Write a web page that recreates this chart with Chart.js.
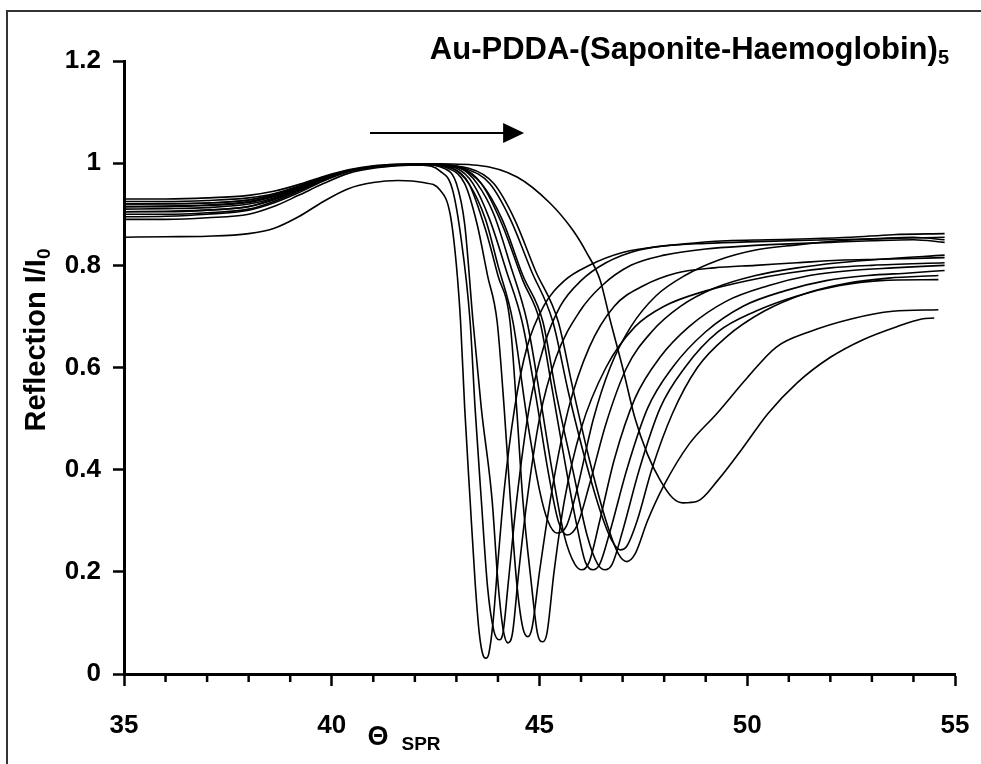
<!DOCTYPE html>
<html><head><meta charset="utf-8">
<script src="https://cdn.jsdelivr.net/npm/chart.js@4/dist/chart.umd.min.js"></script>
<style>html,body{margin:0;padding:0;background:#fff}canvas{display:block}</style>
</head><body>
<canvas id="c" width="981" height="764"></canvas>
<script>
const titleText = "Au-PDDA-(Saponite-Haemoglobin)";
const titleSub = "5";
const yTitleText = "Reflection I/I";
const yTitleSub = "0";
const xTitleSymbol = "\u0398";
const xTitleSub = "SPR";
const xTickValues = [35, 40, 45, 50, 55];
const yTickValues = [0, 0.2, 0.4, 0.6, 0.8, 1, 1.2];
const arrowFrom = [40.92, 1.059];
const arrowTo = [44.63, 1.059];

const curveA = [[35,.855],[36,.856],[37,.857],[38,.862],[38.6,.872],[39.2,.895],[39.8,.925],[40.4,.95],[41,.962],[41.6,.966],[42.2,.962],[42.6,.948],[42.85,.9],[43.0,.8],[43.1,.69],[43.2,.52],[43.33,.34],[43.45,.18],[43.55,.08],[43.65,.035],[43.71,.031],[43.78,.04],[43.88,.1],[44.0,.22],[44.15,.36],[44.4,.52],[44.7,.64],[45.1,.72],[45.6,.77],[46.2,.8],[47,.825],[48,.838],[49,.843],[50,.846],[51,.848],[52,.85],[53,.852],[54,.855],[54.75,.85]];
const curveB = [[35,.915],[36,.916],[37,.918],[38,.925],[38.6,.935],[39.2,.95],[39.8,.97],[40.4,.985],[41,.993],[41.6,.997],[42.2,.996],[42.6,.985],[42.9,.95],[43.1,.86],[43.33,.69],[43.45,.52],[43.6,.34],[43.75,.17],[43.9,.085],[44.03,.067],[44.12,.08],[44.25,.18],[44.45,.34],[44.75,.52],[45.1,.64],[45.5,.72],[46,.77],[46.6,.805],[47.4,.83],[48.5,.842],[49.5,.848],[50.5,.85],[51.5,.852],[52.5,.855],[53.5,.86],[54.75,.862]];
const curveC = [[35,.905],[36,.905],[37,.908],[38,.915],[38.6,.93],[39.2,.948],[39.8,.968],[40.4,.985],[41,.993],[41.6,.996],[42.2,.997],[42.7,.99],[43.0,.96],[43.2,.88],[43.4,.69],[43.6,.52],[43.86,.34],[44.0,.18],[44.12,.09],[44.24,.061],[44.35,.08],[44.5,.2],[44.7,.34],[45.0,.5],[45.4,.62],[45.97,.71],[46.5,.76],[47.2,.8],[48,.82],[49,.832],[50,.838],[51,.842],[52,.845],[53,.848],[54,.85],[54.75,.845]];
const curveD = [[35,.925],[36,.925],[37,.927],[38,.932],[38.6,.94],[39.2,.955],[39.8,.972],[40.4,.985],[41,.993],[41.6,.997],[42.2,.998],[42.8,.99],[43.2,.96],[43.5,.88],[43.75,.78],[43.98,.69],[44.15,.52],[44.3,.34],[44.45,.18],[44.6,.09],[44.72,.073],[44.82,.09],[45,.2],[45.3,.36],[45.7,.52],[46.2,.64],[46.8,.72],[47.5,.76],[48.3,.785],[49.2,.795],[50.2,.8],[51.2,.805],[52.2,.81],[53.2,.812],[54.75,.815]];
const curveE = [[35,.895],[36,.896],[37,.9],[38,.908],[38.6,.922],[39.2,.942],[39.8,.965],[40.4,.983],[41,.992],[41.6,.996],[42.2,.997],[42.9,.99],[43.3,.96],[43.7,.87],[44.0,.78],[44.29,.69],[44.45,.52],[44.6,.34],[44.8,.18],[44.95,.08],[45.08,.063],[45.18,.08],[45.35,.2],[45.6,.34],[46.0,.48],[46.6,.6],[47.3,.68],[48,.72],[49,.75],[50,.77],[51,.785],[52,.795],[53,.8],[54.75,.805]];
const curveF = [[35,.92],[36,.921],[37,.922],[38,.928],[38.6,.938],[39.2,.955],[39.8,.972],[40.4,.986],[41,.994],[41.6,.998],[42.3,.998],[42.9,.99],[43.3,.96],[43.7,.89],[44.0,.8],[44.36,.69],[44.7,.5],[45.0,.36],[45.2,.3],[45.42,.276],[45.65,.29],[45.9,.36],[46.3,.5],[46.7,.6],[47.2,.68],[47.8,.74],[48.5,.78],[49.3,.81],[50.2,.83],[51.2,.84],[52.2,.848],[53.2,.852],[54.75,.855]];
const curveG = [[35,.91],[36,.911],[37,.913],[38,.92],[38.6,.932],[39.2,.95],[39.8,.968],[40.4,.984],[41,.993],[41.6,.997],[42.3,.998],[43,.99],[43.4,.96],[43.8,.89],[44.2,.79],[44.58,.69],[44.9,.55],[45.2,.4],[45.45,.3],[45.66,.272],[45.9,.29],[46.2,.37],[46.6,.49],[47.1,.6],[47.7,.67],[48.4,.72],[49.2,.755],[50.2,.78],[51.2,.795],[52.2,.805],[53.2,.812],[54.75,.82]];
const curveH = [[35,.9],[36,.9],[37,.903],[38,.91],[38.6,.925],[39.2,.945],[39.8,.966],[40.4,.984],[41,.993],[41.6,.997],[42.4,.998],[43.1,.99],[43.5,.96],[43.9,.9],[44.3,.8],[44.7,.69],[45.0,.55],[45.3,.4],[45.6,.27],[45.85,.215],[46.02,.204],[46.2,.22],[46.45,.3],[46.8,.42],[47.3,.54],[47.9,.62],[48.6,.68],[49.5,.73],[50.5,.76],[51.5,.78],[52.5,.79],[53.5,.795],[54.75,.8]];
const curveI = [[35,.93],[36,.93],[37,.932],[38,.937],[38.6,.945],[39.2,.958],[39.8,.974],[40.4,.987],[41,.995],[41.6,.998],[42.4,.999],[43.1,.992],[43.6,.96],[44.1,.88],[44.6,.77],[45.01,.69],[45.3,.56],[45.6,.42],[45.9,.29],[46.1,.22],[46.29,.204],[46.45,.215],[46.7,.28],[47.1,.4],[47.6,.52],[48.2,.6],[49,.67],[49.9,.72],[50.9,.75],[51.9,.77],[52.9,.78],[53.9,.785],[54.75,.79]];
const curveJ = [[35,.915],[36,.915],[37,.917],[38,.923],[38.6,.935],[39.2,.952],[39.8,.97],[40.4,.985],[41,.993],[41.6,.997],[42.4,.998],[43.1,.99],[43.6,.96],[44.1,.89],[44.6,.78],[45.08,.69],[45.4,.55],[45.8,.4],[46.15,.27],[46.4,.215],[46.58,.204],[46.75,.215],[47.0,.28],[47.4,.4],[47.9,.52],[48.5,.6],[49.3,.67],[50.2,.71],[51.2,.74],[52.2,.76],[53.2,.77],[54.6,.772]];
const curveK = [[35,.905],[36,.906],[37,.908],[38,.915],[38.6,.928],[39.2,.947],[39.8,.967],[40.4,.984],[41,.993],[41.6,.997],[42.4,.998],[43.2,.99],[43.8,.96],[44.3,.89],[44.8,.79],[45.32,.69],[45.7,.55],[46.1,.42],[46.5,.31],[46.75,.26],[46.94,.243],[47.1,.25],[47.35,.3],[47.7,.4],[48.2,.51],[48.8,.6],[49.5,.66],[50.4,.71],[51.4,.745],[52.4,.765],[53.4,.775],[54.6,.78]];
const curveL = [[35,.89],[36,.89],[37,.893],[38,.9],[38.6,.915],[39.2,.937],[39.8,.96],[40.4,.98],[41,.99],[41.6,.995],[42.4,.997],[43.3,.99],[43.9,.96],[44.4,.89],[44.9,.79],[45.45,.69],[45.8,.56],[46.2,.42],[46.6,.3],[46.9,.235],[47.1,.22],[47.3,.235],[47.6,.3],[48.0,.37],[48.6,.45],[49.27,.51],[50,.58],[50.7,.64],[51.5,.67],[52.5,.695],[53.5,.71],[54.6,.713]];
const curveM = [[35,.92],[36,.92],[37,.922],[38,.928],[38.6,.938],[39.2,.953],[39.8,.97],[40.4,.985],[41,.993],[41.6,.997],[42.4,.999],[43.5,.996],[44.46,.973],[45.25,.922],[45.8,.869],[46.14,.824],[46.46,.771],[46.7,.693],[47.0,.6],[47.3,.5],[47.6,.43],[47.9,.38],[48.2,.345],[48.45,.335],[48.8,.338],[49.3,.38],[49.87,.44],[50.5,.51],[51.2,.57],[52,.62],[52.8,.655],[53.6,.68],[54.2,.695],[54.5,.697]];

const curves = [curveA, curveB, curveC, curveD, curveE, curveF, curveG, curveH, curveI, curveJ, curveK, curveL, curveM];

const FONT = "'Liberation Sans', Arial, sans-serif";

const decor = {
  id: 'decor',
  beforeDraw(chart) {
    const ctx = chart.ctx;
    ctx.save();
    ctx.fillStyle = '#fff';
    ctx.fillRect(0, 0, chart.width, chart.height);
    ctx.strokeStyle = '#333';
    ctx.lineWidth = 2;
    ctx.beginPath();
    ctx.moveTo(7, chart.height);
    ctx.lineTo(7, 11);
    ctx.lineTo(chart.width, 11);
    ctx.stroke();
    ctx.restore();
  },
  afterDraw(chart) {
    const ctx = chart.ctx;
    const xs = chart.scales.x, ys = chart.scales.y;
    const ca = chart.chartArea;
    ctx.save();
    ctx.strokeStyle = '#000';
    ctx.lineWidth = 2.5;
    for (let v = xs.min; v <= xs.max; v += 1) {
      if (v % 5 === 0) continue;
      const px = xs.getPixelForValue(v);
      ctx.beginPath();
      ctx.moveTo(px, ca.bottom);
      ctx.lineTo(px, ca.bottom + 8);
      ctx.stroke();
    }
    const ax0 = xs.getPixelForValue(arrowFrom[0]);
    const ay = ys.getPixelForValue(arrowFrom[1]);
    const ax1 = xs.getPixelForValue(arrowTo[0]);
    ctx.lineWidth = 2;
    ctx.beginPath();
    ctx.moveTo(ax0, ay);
    ctx.lineTo(ax1 - 18, ay);
    ctx.stroke();
    ctx.fillStyle = '#000';
    ctx.beginPath();
    ctx.moveTo(ax1, ay);
    ctx.lineTo(ax1 - 21, ay - 10);
    ctx.lineTo(ax1 - 21, ay + 10);
    ctx.closePath();
    ctx.fill();
    // title
    ctx.textBaseline = 'alphabetic';
    ctx.textAlign = 'left';
    const bigT = 'bold 31px ' + FONT, subT = 'bold 20px ' + FONT;
    ctx.font = subT;
    const sw = ctx.measureText(titleSub).width;
    ctx.font = bigT;
    const tw = ctx.measureText(titleText).width;
    const right = 949;
    ctx.fillText(titleText, right - sw - tw, 59);
    ctx.font = subT;
    ctx.fillText(titleSub, right - sw, 64);
    // y title
    ctx.save();
    ctx.translate(45, 340);
    ctx.rotate(-Math.PI / 2);
    const bigY = 'bold 29px ' + FONT, subY = 'bold 19px ' + FONT;
    ctx.font = bigY;
    const yw = ctx.measureText(yTitleText).width;
    ctx.font = subY;
    const yw2 = ctx.measureText(yTitleSub).width;
    const start = -(yw + yw2) / 2;
    ctx.font = bigY;
    ctx.fillText(yTitleText, start, 0);
    ctx.font = subY;
    ctx.fillText(yTitleSub, start + yw, 5);
    ctx.restore();
    // x title
    ctx.textAlign = 'center';
    ctx.textBaseline = 'middle';
    ctx.font = 'bold 27px ' + FONT;
    ctx.fillText(xTitleSymbol, 378, 738);
    ctx.font = 'bold 19px ' + FONT;
    ctx.fillText(xTitleSub, 421, 745);
    ctx.restore();
  }
};

new Chart(document.getElementById('c'), {
  type: 'scatter',
  data: {
    datasets: curves.map((c, i) => ({
      label: 'scan ' + (i + 1),
      data: c.map(p => ({x: p[0], y: p[1]})),
      showLine: true,
      borderColor: '#000',
      borderWidth: 1.6,
      pointRadius: 0,
      fill: false,
      cubicInterpolationMode: 'monotone'
    }))
  },
  options: {
    responsive: false,
    animation: false,
    devicePixelRatio: 1,
    layout: {padding: {left: 0, top: 61, right: 26, bottom: 0}},
    plugins: {legend: {display: false}, tooltip: {enabled: false}},
    scales: {
      x: {
        type: 'linear', min: 35, max: 55,
        afterBuildTicks(s) { s.ticks = xTickValues.map(v => ({value: v})); },
        afterFit(s) { s.height = 90; s.paddingLeft = 0; s.paddingRight = 0; },
        border: {display: true, color: '#000', width: 3},
        grid: {display: true, drawOnChartArea: false, drawTicks: true, tickLength: 12, tickWidth: 2.5, tickColor: '#000'},
        ticks: {color: '#000', font: {family: FONT, size: 26, weight: 'bold'}, padding: 24, maxRotation: 0}
      },
      y: {
        min: 0, max: 1.2,
        afterBuildTicks(s) { s.ticks = yTickValues.map(v => ({value: v})); },
        afterFit(s) { s.width = 124; s.paddingTop = 0; s.paddingBottom = 0; },
        border: {display: true, color: '#000', width: 3},
        grid: {display: true, drawOnChartArea: false, drawTicks: true, tickLength: 11, tickWidth: 2.5, tickColor: '#000'},
        ticks: {color: '#000', font: {family: FONT, size: 26, weight: 'bold'}, padding: 12,
          callback: v => String(+v.toFixed(1))}
      }
    }
  },
  plugins: [decor]
});
</script>
</body></html>
